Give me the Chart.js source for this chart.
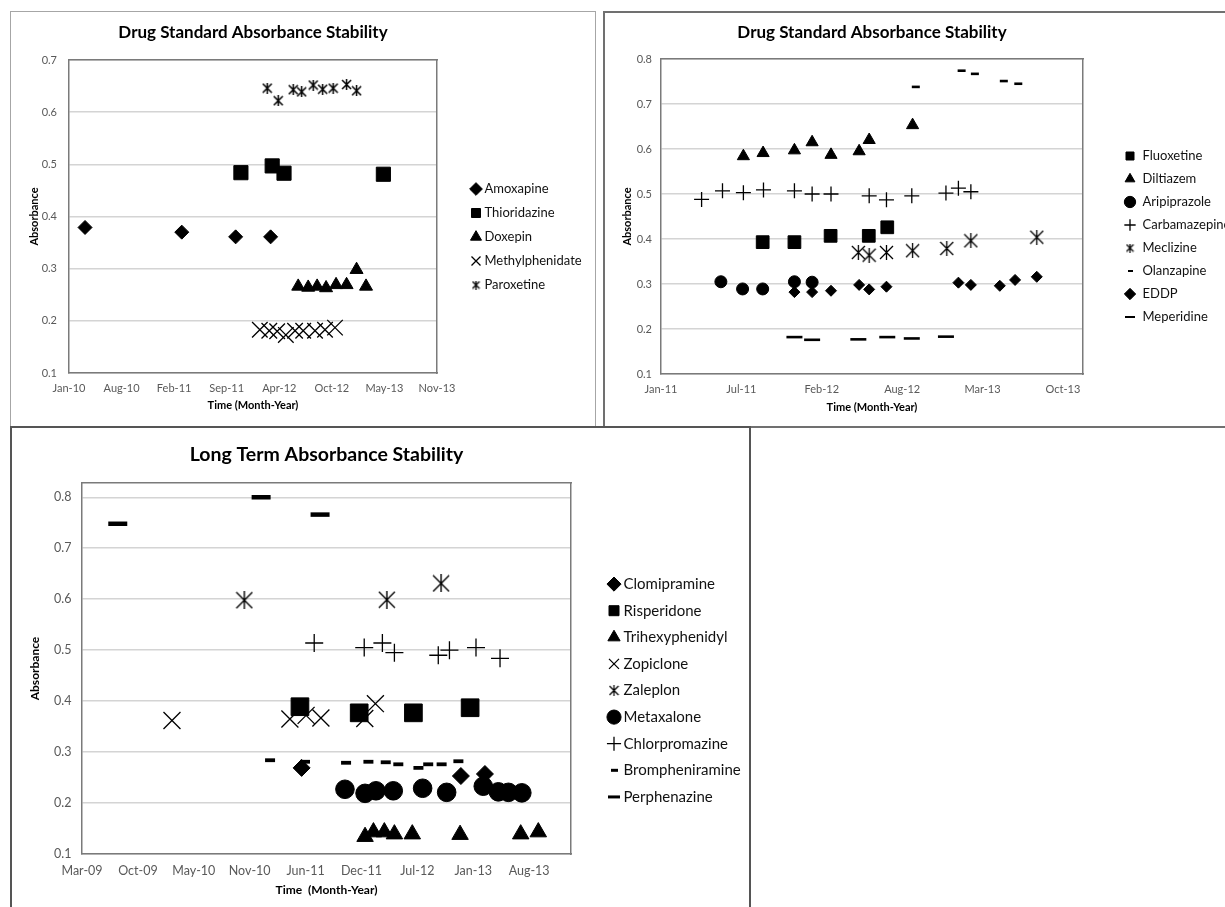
<!DOCTYPE html>
<html>
<head>
<meta charset="utf-8">
<title>Absorbance Stability</title>
<script src="https://cdn.jsdelivr.net/npm/chart.js@4.4.1/dist/chart.umd.min.js"></script>
<style>
  html, body { margin: 0; background: #fff; overflow: hidden; }
  body { position: relative; width: 1225px; height: 907px; }
  .panel { position: absolute; box-sizing: border-box; }
  .box { position: absolute; }
</style>
</head>
<body>
  <div class="panel" style="left:10px;top:11px;width:586px;height:417px;border:1px solid #a6a6a6"></div>
  <div class="panel" style="left:603px;top:11px;width:700px;height:417px;border:2px solid #707070"></div>
  <div class="panel" style="left:10px;top:426px;width:741px;height:500px;border:2px solid #555"></div>

  <div class="box" style="left:11px;top:12px;width:583px;height:414px"><canvas id="chart1"></canvas></div>
  <div class="box" style="left:604px;top:12px;width:660px;height:414px"><canvas id="chart2"></canvas></div>
  <div class="box" style="left:11px;top:428px;width:738px;height:480px"><canvas id="chart3"></canvas></div>

<script>
const FONT = 'Lato';

// x values everywhere are Excel date serials (days since 30-Dec-1899)

// Chart 1 - Drug Standard Absorbance Stability (top left)
const c1TickDays = [40200, 40400, 40600, 40800, 41000, 41200, 41400, 41600];
const c1TickLabels = ['Jan-10', 'Aug-10', 'Feb-11', 'Sep-11', 'Apr-12', 'Oct-12', 'May-13', 'Nov-13'];
const c1YTicks = [0.1, 0.2, 0.3, 0.4, 0.5, 0.6, 0.7];
const amoxapineX = [40261, 40629, 40834, 40967];
const amoxapineY = [0.379, 0.370, 0.361, 0.361];
const thioridazineX = [40854, 40973, 41018, 41396];
const thioridazineY = [0.484, 0.497, 0.483, 0.481];
const doxepinX = [41072, 41110, 41144, 41178, 41216, 41256, 41294, 41330];
const doxepinY = [0.266, 0.264, 0.266, 0.263, 0.269, 0.269, 0.298, 0.266];
const methylphenidateX = [40926, 40962, 40992, 41025, 41060, 41091, 41136, 41174, 41212];
const methylphenidateY = [0.183, 0.181, 0.180, 0.173, 0.181, 0.181, 0.181, 0.183, 0.187];
const paroxetineX = [40954, 40996, 41053, 41085, 41129, 41165, 41205, 41256, 41294];
const paroxetineY = [0.646, 0.622, 0.643, 0.639, 0.652, 0.644, 0.646, 0.653, 0.641];

// Chart 2 - Drug Standard Absorbance Stability (top right)
const c2TickDays = [40550, 40750, 40950, 41150, 41350, 41550];
const c2TickLabels = ['Jan-11', 'Jul-11', 'Feb-12', 'Aug-12', 'Mar-13', 'Oct-13'];
const c2YTicks = [0.1, 0.2, 0.3, 0.4, 0.5, 0.6, 0.7, 0.8];
const fluoxetineX = [40803, 40882, 40972, 41067, 41113];
const fluoxetineY = [0.393, 0.393, 0.407, 0.407, 0.426];
const diltiazemX = [40755, 40804, 40882, 40926, 40973, 41043, 41068, 41176];
const diltiazemY = [0.584, 0.591, 0.597, 0.615, 0.587, 0.595, 0.620, 0.653];
const aripiprazoleX = [40699, 40753, 40803, 40882, 40926];
const aripiprazoleY = [0.305, 0.289, 0.289, 0.305, 0.304];
const carbamazepineX = [40651, 40703, 40755, 40805, 40882, 40926, 40973, 41068, 41111, 41174, 41259, 41290, 41321];
const carbamazepineY = [0.488, 0.507, 0.503, 0.509, 0.507, 0.500, 0.500, 0.496, 0.487, 0.496, 0.502, 0.513, 0.505];
const meclizineX = [41041, 41068, 41111, 41176, 41261, 41321, 41485];
const meclizineY = [0.370, 0.364, 0.370, 0.374, 0.379, 0.396, 0.404];
const olanzapineX = [41184, 41298, 41331, 41403, 41439];
const olanzapineY = [0.738, 0.774, 0.767, 0.751, 0.745];
const eddpX = [40882, 40926, 40973, 41043, 41068, 41111, 41290, 41321, 41393, 41431, 41485];
const eddpY = [0.282, 0.282, 0.285, 0.298, 0.288, 0.294, 0.303, 0.298, 0.296, 0.309, 0.316];
const meperidineX = [40882, 40926, 41041, 41113, 41174, 41259];
const meperidineY = [0.182, 0.176, 0.177, 0.182, 0.179, 0.183];

// Chart 3 - Long Term Absorbance Stability (bottom)
const c3TickDays = [39900, 40100, 40300, 40500, 40700, 40900, 41100, 41300, 41500];
const c3TickLabels = ['Mar-09', 'Oct-09', 'May-10', 'Nov-10', 'Jun-11', 'Dec-11', 'Jul-12', 'Jan-13', 'Aug-13'];
const c3YTicks = [0.1, 0.2, 0.3, 0.4, 0.5, 0.6, 0.7, 0.8];
const clomipramineX = [40686, 41256, 41342];
const clomipramineY = [0.269, 0.253, 0.257];
const risperidoneX = [40680, 40892, 41086, 41289];
const risperidoneY = [0.389, 0.377, 0.377, 0.387];
const trihexyphenidylX = [40913, 40943, 40982, 41018, 41082, 41253, 41470, 41533];
const trihexyphenidylY = [0.134, 0.143, 0.143, 0.139, 0.139, 0.138, 0.139, 0.143];
const zopicloneX = [40222, 40644, 40702, 40755, 40912, 40950];
const zopicloneY = [0.362, 0.365, 0.372, 0.367, 0.366, 0.395];
const zaleplonX = [40481, 40991, 41185];
const zaleplonY = [0.598, 0.599, 0.631];
const metaxaloneX = [40841, 40913, 40952, 41014, 41119, 41205, 41336, 41390, 41426, 41474];
const metaxaloneY = [0.227, 0.219, 0.224, 0.224, 0.229, 0.221, 0.233, 0.222, 0.221, 0.220];
const chlorpromazineX = [40731, 40910, 40975, 41018, 41175, 41215, 41310, 41396];
const chlorpromazineY = [0.514, 0.505, 0.514, 0.495, 0.490, 0.500, 0.505, 0.484];
const brompheniramineX = [40573, 40698, 40845, 40925, 40987, 41032, 41104, 41139, 41187, 41247];
const brompheniramineY = [0.284, 0.281, 0.279, 0.281, 0.280, 0.276, 0.269, 0.276, 0.276, 0.282];
const perphenazineX = [40028, 40541, 40752];
const perphenazineY = [0.748, 0.800, 0.766];

// Excel's "star" marker: an X with a vertical bar through it
function starMarker(size, lw) {
  const c = document.createElement('canvas');
  c.width = c.height = size;
  const g = c.getContext('2d');
  g.strokeStyle = '#000';
  g.lineWidth = lw;
  g.beginPath();
  g.moveTo(1, 1); g.lineTo(size - 1, size - 1);
  g.moveTo(size - 1, 1); g.lineTo(1, size - 1);
  g.moveTo(size / 2, 0); g.lineTo(size / 2, size);
  g.stroke();
  return c;
}

// small dash used only in the legends, where every marker would otherwise get the same length
function dashMarker(len, thick) {
  const c = document.createElement('canvas');
  c.width = len;
  c.height = Math.ceil(thick) + 2;
  const g = c.getContext('2d');
  g.fillStyle = '#000';
  g.fillRect(0, (c.height - thick) / 2, len, thick);
  return c;
}

function buildChart(id, cfg) {
  const wrap = document.getElementById(id).parentNode;
  const W = wrap.clientWidth, H = wrap.clientHeight;
  const a = cfg.area, lg = cfg.legend;
  const axisLH = cfg.axisTitleSize * 1.2;
  const tickLH = cfg.tickSize * 1.2;
  const titleLH = cfg.titleSize * 1.2;
  const padLeft = 8;

  // legend width the way Chart.js measures it, so the plot's right edge lands where wanted
  const meas = document.createElement('canvas').getContext('2d');
  meas.font = lg.size + 'px ' + FONT;
  const textW = Math.max(...cfg.series.map(s => meas.measureText(s.label).width));
  const legendW = lg.pad + lg.boxW + lg.size / 2 + textW + 10;

  const padBottom = H - cfg.xTitleY - axisLH / 2;
  const padRight = W - a.right - lg.gap - legendW;

  // an empty legend title works as a spacer that moves the item column down
  const n = cfg.series.length, row = lg.size + lg.pad;
  const firstTop = lg.centerY - (n - 1) * row / 2 - lg.size / 2;
  const spacer = 2 * firstTop - lg.pad - (H - padBottom) + n * row;

  const frame = { display: true, color: '#7a7a7a', width: 1.5 };

  const datasets = cfg.series.map((s, i) => ({
    label: s.label,
    data: s.xs.map((x, j) => ({ x, y: s.ys[j] })),
    pointStyle: s.style,
    pointRadius: s.r,
    pointHoverRadius: s.r,
    pointBorderWidth: s.bw || 1,
    backgroundColor: '#000',
    borderColor: '#000',
    legendStyle: s.legendStyle,
    order: n - i // later series drawn on top, as in Excel
  }));

  return new Chart(document.getElementById(id), {
    type: 'scatter',
    data: { datasets },
    options: {
      responsive: true,
      maintainAspectRatio: false,
      animation: false,
      events: [],
      layout: { autoPadding: false, padding: { top: 0, left: padLeft, right: padRight, bottom: padBottom } },
      scales: {
        x: {
          type: 'linear',
          min: cfg.xMin,
          max: cfg.xMax,
          afterBuildTicks: s => { s.ticks = cfg.xTicks.map(v => ({ value: v })); },
          afterFit: s => { s.height = H - padBottom - a.bottom; },
          grid: { display: false, drawTicks: false },
          border: frame,
          ticks: {
            autoSkip: false,
            maxRotation: 0,
            padding: cfg.xTickY - a.bottom - tickLH / 2,
            color: '#595959',
            font: { size: cfg.tickSize },
            callback: v => cfg.xLabels[cfg.xTicks.indexOf(v)]
          },
          title: { display: true, text: cfg.xTitle, color: '#000', font: { size: cfg.axisTitleSize, weight: 'bold' }, padding: 0 }
        },
        y: {
          min: cfg.yMin,
          max: cfg.yMax,
          afterBuildTicks: s => { s.ticks = cfg.yTicks.map(v => ({ value: v })); },
          afterFit: s => { s.width = a.left - padLeft; },
          grid: { color: '#d4d4d4', lineWidth: 1.5, drawTicks: false },
          border: frame,
          ticks: {
            padding: a.left - cfg.yTickRight,
            color: '#595959',
            font: { size: cfg.tickSize },
            callback: v => v.toFixed(1)
          },
          title: {
            display: true,
            text: 'Absorbance',
            color: '#000',
            font: { size: cfg.axisTitleSize, weight: 'bold' },
            padding: { top: cfg.yTitleX - padLeft - axisLH / 2, bottom: 0 }
          }
        },
        // empty axes that close the plot frame on top and right
        x2: {
          type: 'linear', position: 'top',
          grid: { display: false, drawTicks: false }, ticks: { display: false }, border: frame,
          afterFit: s => { s.height = 0; }
        },
        y2: {
          type: 'linear', position: 'right',
          grid: { display: false, drawTicks: false }, ticks: { display: false }, border: frame,
          afterFit: s => { s.width = lg.gap; }
        }
      },
      plugins: {
        title: {
          display: true,
          text: cfg.title,
          fullSize: false,
          color: '#000',
          font: { size: cfg.titleSize, weight: 'bold' },
          padding: { top: cfg.titleY - titleLH / 2, bottom: a.top - cfg.titleY - titleLH / 2 }
        },
        legend: {
          position: 'right',
          maxWidth: 400,
          title: { display: true, text: '', font: { size: 12 }, padding: (spacer - 14.4) / 2 },
          labels: {
            usePointStyle: true,
            boxWidth: lg.boxW,
            boxHeight: lg.boxH,
            padding: lg.pad,
            color: '#111',
            font: { size: lg.size },
            sort: (p, q) => p.datasetIndex - q.datasetIndex,
            generateLabels(chart) {
              const items = Chart.defaults.plugins.legend.labels.generateLabels(chart);
              items.forEach(it => {
                const ds = chart.data.datasets[it.datasetIndex];
                if (ds.legendStyle) it.pointStyle = ds.legendStyle;
              });
              return items;
            }
          }
        },
        tooltip: { enabled: false }
      }
    }
  });
}

Chart.defaults.font.family = FONT;

buildChart('chart1', {
  title: 'Drug Standard Absorbance Stability',
  xTitle: 'Time (Month-Year)',
  xMin: 40200, xMax: 41600, xTicks: c1TickDays, xLabels: c1TickLabels,
  yMin: 0.1, yMax: 0.7, yTicks: c1YTicks,
  area: { left: 58, right: 426, top: 48, bottom: 361 },
  titleY: 21, titleSize: 17,
  yTitleX: 23, xTitleY: 393, axisTitleSize: 11,
  tickSize: 11, xTickY: 376, yTickRight: 46,
  legend: { size: 13, pad: 11, boxW: 4, boxH: 9, gap: 26, centerY: 225 },
  series: [
    { label: 'Amoxapine', xs: amoxapineX, ys: amoxapineY, style: 'rectRot', r: 7 },
    { label: 'Thioridazine', xs: thioridazineX, ys: thioridazineY, style: 'rect', r: 10 },
    { label: 'Doxepin', xs: doxepinX, ys: doxepinY, style: 'triangle', r: 7.5 },
    { label: 'Methylphenidate', xs: methylphenidateX, ys: methylphenidateY, style: 'crossRot', r: 11, bw: 1.3 },
    { label: 'Paroxetine', xs: paroxetineX, ys: paroxetineY, style: starMarker(11, 1.5), r: 5, legendStyle: starMarker(9, 1.3) }
  ]
});

buildChart('chart2', {
  title: 'Drug Standard Absorbance Stability',
  xTitle: 'Time (Month-Year)',
  xMin: 40550, xMax: 41600, xTicks: c2TickDays, xLabels: c2TickLabels,
  yMin: 0.1, yMax: 0.8, yTicks: c2YTicks,
  area: { left: 57, right: 479, top: 47, bottom: 362 },
  titleY: 21, titleSize: 17,
  yTitleX: 23, xTitleY: 395, axisTitleSize: 11,
  tickSize: 11, xTickY: 377, yTickRight: 48,
  legend: { size: 13, pad: 10, boxW: 12, boxH: 8, gap: 31, centerY: 224.5 },
  series: [
    { label: 'Fluoxetine', xs: fluoxetineX, ys: fluoxetineY, style: 'rect', r: 9 },
    { label: 'Diltiazem', xs: diltiazemX, ys: diltiazemY, style: 'triangle', r: 7 },
    { label: 'Aripiprazole', xs: aripiprazoleX, ys: aripiprazoleY, style: 'circle', r: 6 },
    { label: 'Carbamazepine', xs: carbamazepineX, ys: carbamazepineY, style: 'cross', r: 7.5, bw: 1.3 },
    { label: 'Meclizine', xs: meclizineX, ys: meclizineY, style: starMarker(15, 1.3), r: 7, legendStyle: starMarker(9, 1.2) },
    { label: 'Olanzapine', xs: olanzapineX, ys: olanzapineY, style: 'line', r: 4, bw: 2.6, legendStyle: dashMarker(5, 2) },
    { label: 'EDDP', xs: eddpX, ys: eddpY, style: 'rectRot', r: 5.5 },
    { label: 'Meperidine', xs: meperidineX, ys: meperidineY, style: 'line', r: 8, bw: 2.6, legendStyle: dashMarker(10, 2) }
  ]
});

buildChart('chart3', {
  title: 'Long Term Absorbance Stability',
  xTitle: 'Time  (Month-Year)',
  xMin: 39900, xMax: 41650, xTicks: c3TickDays, xLabels: c3TickLabels,
  yMin: 0.1, yMax: 0.828, yTicks: c3YTicks,
  area: { left: 71, right: 560, top: 55, bottom: 426 },
  titleY: 26.3, titleSize: 19.5,
  yTitleX: 24.5, xTitleY: 462, axisTitleSize: 12,
  tickSize: 12.5, xTickY: 442.7, yTickRight: 60.4,
  legend: { size: 15, pad: 11.6, boxW: 4, boxH: 10, gap: 29.4, centerY: 262.5 },
  series: [
    { label: 'Clomipramine', xs: clomipramineX, ys: clomipramineY, style: 'rectRot', r: 8.5 },
    { label: 'Risperidone', xs: risperidoneX, ys: risperidoneY, style: 'rect', r: 12.5 },
    { label: 'Trihexyphenidyl', xs: trihexyphenidylX, ys: trihexyphenidylY, style: 'triangle', r: 9.5 },
    { label: 'Zopiclone', xs: zopicloneX, ys: zopicloneY, style: 'crossRot', r: 12, bw: 1.3 },
    { label: 'Zaleplon', xs: zaleplonX, ys: zaleplonY, style: starMarker(18, 1.4), r: 9, legendStyle: starMarker(11, 1.2) },
    { label: 'Metaxalone', xs: metaxaloneX, ys: metaxaloneY, style: 'circle', r: 9.3 },
    { label: 'Chlorpromazine', xs: chlorpromazineX, ys: chlorpromazineY, style: 'cross', r: 9, bw: 1.3 },
    { label: 'Brompheniramine', xs: brompheniramineX, ys: brompheniramineY, style: 'line', r: 5, bw: 3.8, legendStyle: dashMarker(7, 3) },
    { label: 'Perphenazine', xs: perphenazineX, ys: perphenazineY, style: 'line', r: 9.5, bw: 4.5, legendStyle: dashMarker(12, 3) }
  ]
});
</script>
</body>
</html>
